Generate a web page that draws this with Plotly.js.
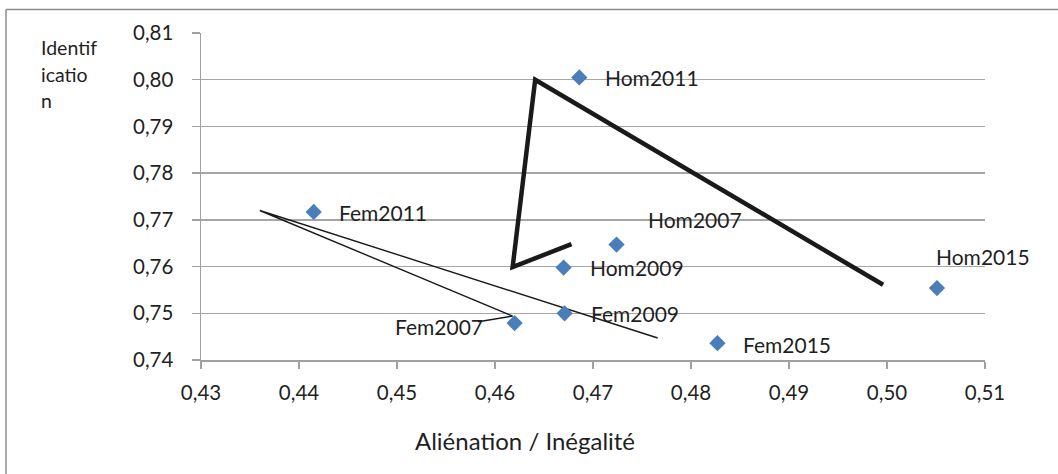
<!DOCTYPE html>
<html>
<head>
<meta charset="utf-8">
<script src="https://cdn.plot.ly/plotly-3.0.1.min.js"></script>
<style>
  html, body { margin: 0; padding: 0; background: #ffffff; }
  #chart { width: 1058px; height: 474px; }
</style>
</head>
<body>
<div id="chart"></div>
<script>
// ---- Data ----
const groups = ['Fem2011', 'Hom2011', 'Hom2007', 'Hom2009', 'Fem2009', 'Fem2007', 'Fem2015', 'Hom2015'];
const alienation = [0.4415, 0.4686, 0.4724, 0.4670, 0.4671, 0.4620, 0.4827, 0.5051];
const identification = [0.7717, 0.8005, 0.7647, 0.7598, 0.7500, 0.7479, 0.7436, 0.7554];

// hand-drawn arrows (thick: men, thin: women)
const thickLineX = [0.4678, 0.4618, 0.4641, 0.4996];
const thickLineY = [0.7648, 0.7599, 0.8000, 0.7561];
const thinLineX = [0.4766, 0.4360, 0.4618, 0.4583];
const thinLineY = [0.7447, 0.7720, 0.7494, 0.7482];

const xTickVals = [0.43, 0.44, 0.45, 0.46, 0.47, 0.48, 0.49, 0.50, 0.51];
const yTickVals = [0.74, 0.75, 0.76, 0.77, 0.78, 0.79, 0.80, 0.81];
const xTitle = 'Aliénation / Inégalité';
const yTitleLines = ['Identif', 'icatio', 'n'];

// ---- label placement (style) ----
const labelPos = {
  'Fem2011': {anchor: 'left', dx: 23, dy: -1},
  'Hom2011': {anchor: 'left', dx: 24, dy: 0},
  'Hom2007': {anchor: 'left', dx: 29, dy: 25},
  'Hom2009': {anchor: 'left', dx: 24, dy: 0},
  'Fem2009': {anchor: 'left', dx: 24, dy: 0},
  'Fem2007': {anchor: 'right', dx: -30, dy: -3},
  'Fem2015': {anchor: 'left', dx: 24, dy: -1},
  'Hom2015': {anchor: 'left', dx: -3, dy: 32}
};

const FONT = 'Lato, "Open Sans", sans-serif';
const TXT = '#1f1f1f';
const GRID = '#a6a6a6';

const traces = [
  {
    x: thinLineX, y: thinLineY, type: 'scatter', mode: 'lines',
    line: {color: '#1a1a1a', width: 1.4}, hoverinfo: 'skip', showlegend: false
  },
  {
    x: thickLineX, y: thickLineY, type: 'scatter', mode: 'lines',
    line: {color: '#1a1a1a', width: 4.5}, hoverinfo: 'skip', showlegend: false
  },
  {
    x: alienation, y: identification, text: groups, type: 'scatter', mode: 'markers',
    marker: {symbol: 'diamond', size: 12.5, color: '#4a7ebb'},
    showlegend: false
  }
];

const annotations = groups.map((g, i) => ({
  x: alienation[i], y: identification[i], xref: 'x', yref: 'y',
  text: g, showarrow: false,
  xanchor: labelPos[g].anchor, yanchor: 'middle',
  xshift: labelPos[g].dx, yshift: labelPos[g].dy,
  font: {family: FONT, size: 21, color: TXT}
}));

// plot area: left 201, right 985, top 33, bottom 360 (px)
const L = 201, R = 985, T = 33, B = 360, W = 1058, H = 474;
const px2x = p => (p - L) / (R - L);
const py2y = p => (B - p) / (B - T);

annotations.push({
  x: px2x(525), y: py2y(440), xref: 'paper', yref: 'paper',
  text: xTitle, showarrow: false, xanchor: 'center', yanchor: 'middle',
  font: {family: FONT, size: 24, color: TXT}
});
const yTitleCenters = [48, 74, 100];
yTitleLines.forEach((t, i) => {
  annotations.push({
    x: px2x(39), y: py2y(yTitleCenters[i]), xref: 'paper', yref: 'paper',
    text: t, showarrow: false, xanchor: 'left', yanchor: 'middle',
    font: {family: FONT, size: 19.5, color: TXT}
  });
});

const layout = {
  width: W, height: H,
  margin: {l: L, r: W - R, t: T, b: H - B, pad: 0},
  paper_bgcolor: '#ffffff', plot_bgcolor: '#ffffff',
  separators: ',.',
  showlegend: false,
  xaxis: {
    range: [0.43, 0.51], tickvals: xTickVals, tickformat: '.2f',
    showgrid: false, zeroline: false,
    showline: true, linecolor: '#a0a0a0', linewidth: 1.5,
    ticks: 'outside', ticklen: 7, tickwidth: 1.3, tickcolor: '#a0a0a0',
    ticklabelstandoff: 7,
    tickfont: {family: FONT, size: 20.5, color: TXT}
  },
  yaxis: {
    range: [0.74, 0.81], tickvals: yTickVals, tickformat: '.2f',
    showgrid: true, gridcolor: GRID, gridwidth: 1.3, zeroline: false,
    showline: true, linecolor: '#a0a0a0', linewidth: 1.5,
    ticks: 'outside', ticklen: 8, tickwidth: 1.3, tickcolor: '#a0a0a0',
    ticklabelstandoff: 14,
    tickfont: {family: FONT, size: 20.5, color: TXT}
  },
  annotations: annotations,
  shapes: [
    {type: 'line', xref: 'paper', yref: 'paper',
     x0: px2x(6), x1: px2x(6), y0: py2y(9.5), y1: py2y(480),
     line: {color: '#8c8c8c', width: 1.5}},
    {type: 'line', xref: 'paper', yref: 'paper',
     x0: px2x(6), x1: px2x(1060), y0: py2y(9.5), y1: py2y(9.5),
     line: {color: '#8c8c8c', width: 1.5}}
  ]
};

Plotly.newPlot('chart', traces, layout, {displayModeBar: false, staticPlot: true});
</script>
</body>
</html>
